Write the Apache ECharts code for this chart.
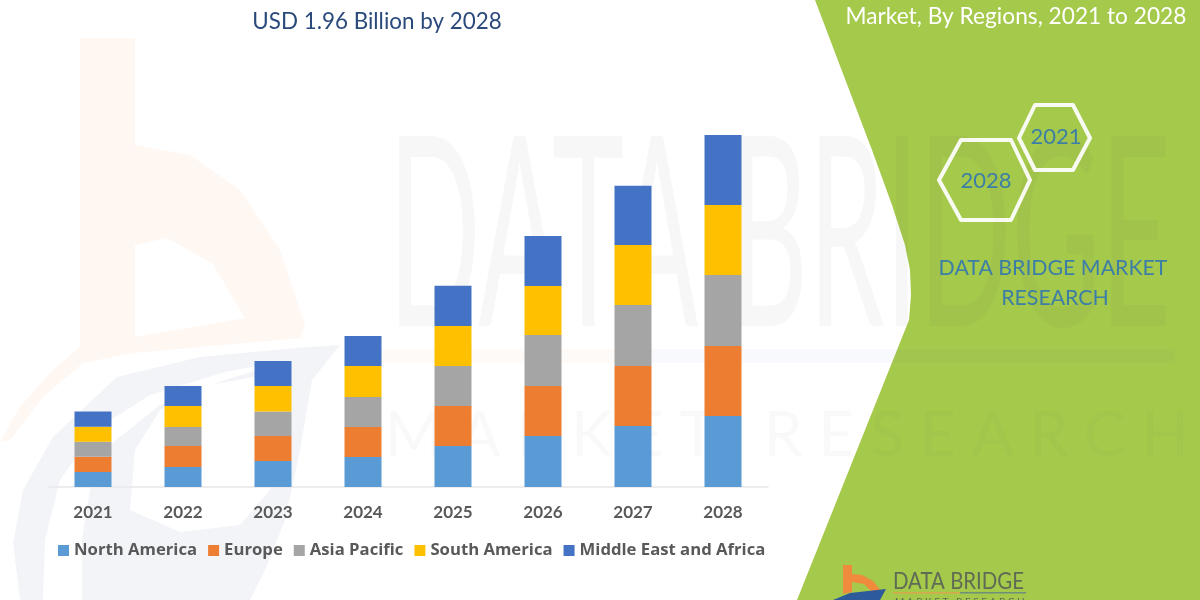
<!DOCTYPE html>
<html>
<head>
<meta charset="utf-8">
<style>
html, body { margin: 0; padding: 0; background: #fff; }
#chart { width: 1200px; height: 600px; }
</style>
<script src="https://cdn.jsdelivr.net/npm/echarts@6/dist/echarts.min.js"></script>
</head>
<body>
<div id="chart"></div>
<script>
// USD billion (2028 adds up to the 1.96 in the title)
const years = ['2021', '2022', '2023', '2024', '2025', '2026', '2027', '2028'];
const northAmerica = [0.084, 0.111, 0.145, 0.167, 0.228, 0.284, 0.340, 0.395];
const europe = [0.084, 0.117, 0.139, 0.167, 0.223, 0.278, 0.334, 0.390];
const asiaPacific = [0.084, 0.106, 0.136, 0.167, 0.223, 0.284, 0.340, 0.395];
const southAmerica = [0.084, 0.117, 0.142, 0.173, 0.223, 0.273, 0.334, 0.390];
const middleEast = [0.084, 0.111, 0.139, 0.167, 0.223, 0.278, 0.329, 0.390];

const font = 'Lato';
const myChart = echarts.init(document.getElementById('chart'), null, { renderer: 'canvas' });

const barSeries = (name, data, color) => ({
    name, data, type: 'bar', stack: 'total', barWidth: 37,
    itemStyle: { color }
});

const centered = (x, y, text, fill, size) => ({
    type: 'text', x, y,
    style: { text, fill, font: size + 'px ' + font, textAlign: 'center', textVerticalAlign: 'middle' }
});

const option = {
    animation: false,
    backgroundColor: '#fff',
    grid: { left: 48, right: 432, top: 135, bottom: 113 },
    xAxis: {
        type: 'category',
        data: years,
        axisTick: { show: false },
        axisLine: { lineStyle: { color: '#e7e7e9', width: 1.5 } },
        axisLabel: { color: '#595959', fontFamily: font, fontWeight: 'bold', fontSize: 17, margin: 17 }
    },
    yAxis: { type: 'value', min: 0, max: 1.96, show: false },
    legend: {
        left: 58, top: 542, padding: 0,
        itemWidth: 11, itemHeight: 11, itemGap: 11,
        icon: 'rect',
        textStyle: { color: '#595959', fontFamily: 'Open Sans', fontWeight: 'bold', fontSize: 16.7 },
        data: ['North America', 'Europe', 'Asia Pacific', 'South America', 'Middle East and Africa']
    },
    series: [
        barSeries('North America', northAmerica, '#5b9bd5'),
        barSeries('Europe', europe, '#ed7d31'),
        barSeries('Asia Pacific', asiaPacific, '#a5a5a5'),
        barSeries('South America', southAmerica, '#ffc000'),
        barSeries('Middle East and Africa', middleEast, '#4472c4')
    ],
    graphic: [
        // green panel on the right
        { type: 'polygon', z: -20, silent: true, shape: { points: [[815, 0], [872, 150], [892, 205], [905, 245], [910, 270], [911, 295], [909, 320], [797, 600], [1200, 600], [1200, 0]] }, style: { fill: '#a5c94a' } },
        // pale logo watermark
        { type: 'polygon', z: -19, silent: true, shape: { points: [[80, 38], [135, 38], [135, 145], [190, 155], [240, 190], [280, 250], [305, 325], [300, 338], [133, 353], [83, 363], [43, 397], [10, 440], [0, 442], [20, 407], [50, 373], [80, 347]] }, style: { fill: '#fff7f2' } },
        { type: 'polygon', z: -18, silent: true, shape: { points: [[135, 245], [167, 238], [213, 264], [245, 318], [135, 337]] }, style: { fill: '#fff' } },
        { type: 'polygon', z: -19, silent: true, shape: { points: [[340, 345], [307, 347], [200, 357], [117, 377], [53, 437], [23, 490], [13, 543], [20, 600], [250, 600], [265, 570], [285, 520], [300, 450], [312, 380]] }, style: { fill: '#f2f4f8' } },
        { type: 'polygon', z: -18, silent: true, shape: { points: [[43, 600], [45, 540], [60, 480], [95, 430], [150, 395], [225, 372], [290, 360], [225, 380], [160, 405], [110, 445], [90, 490], [82, 540], [82, 600]] }, style: { fill: '#fff' } },
        { type: 'polygon', z: -18, silent: true, shape: { points: [[280, 372], [210, 385], [160, 410], [135, 450], [130, 510], [180, 532], [240, 525], [270, 490], [285, 430]] }, style: { fill: '#fff' } },
        // faded company name behind the bars
        { type: 'text', z: -17, silent: true, x: 388, y: 108, scaleX: 0.46, style: { text: 'DATA BRIDGE', fill: 'rgba(90,90,90,0.05)', font: '265px ' + font } },
        { type: 'text', z: -17, silent: true, x: 385, y: 405, style: { text: 'M A R K E T   R E S E A R C H', fill: 'rgba(90,90,90,0.04)', font: '62px ' + font } },
        { type: 'rect', z: -17, silent: true, shape: { x: 380, y: 349, width: 250, height: 14 }, style: { fill: 'rgba(237,125,49,0.04)' } },
        { type: 'rect', z: -17, silent: true, shape: { x: 630, y: 349, width: 545, height: 14 }, style: { fill: 'rgba(68,114,196,0.04)' } },
        // titles
        centered(377, 22, 'USD 1.96 Billion by 2028', '#2b4a7c', 22.4),
        centered(1016, 17, 'Market, By Regions, 2021 to 2028', '#fff', 22.7),
        // hexagons
        { type: 'polygon', shape: { points: [[1035, 105], [1073, 105], [1090, 138], [1073, 170], [1035, 170], [1019, 138]] }, style: { fill: 'none', stroke: '#fff', lineWidth: 4, lineJoin: 'round', opacity: 0.92 } },
        { type: 'polygon', shape: { points: [[961, 140], [1011, 140], [1030, 180], [1011, 220], [961, 220], [939, 180]] }, style: { fill: 'none', stroke: '#fff', lineWidth: 4, lineJoin: 'round', opacity: 0.92 } },
        centered(1056, 137, '2021', '#3d7ea6', 22),
        centered(986, 181, '2028', '#3d7ea6', 22),
        centered(1053, 268, 'DATA BRIDGE MARKET', '#3d7ea6', 21.3),
        centered(1055, 298, 'RESEARCH', '#3d7ea6', 21.3),
        // small logo at the bottom
        { type: 'polygon', shape: { points: [[843, 565], [852, 565], [852, 574], [862, 575], [873, 581], [882, 592], [872, 592], [864, 584], [852, 582], [852, 592], [843, 594]] }, style: { fill: '#f08a3c' } },
        { type: 'polygon', shape: { points: [[833, 600], [850, 593], [886, 589], [880, 600]] }, style: { fill: '#2d5a9a' } },
        { type: 'text', x: 893, y: 581, scaleX: 0.85, style: { text: 'DATA BRIDGE', fill: '#5f6b55', font: '24px ' + font, textVerticalAlign: 'middle' } },
        { type: 'rect', shape: { x: 893, y: 592, width: 67, height: 1.5 }, style: { fill: '#d9a84e' } },
        { type: 'rect', shape: { x: 960, y: 592, width: 66, height: 1.5 }, style: { fill: '#6f8f7a' } },
        { type: 'text', x: 895, y: 597, style: { text: 'M A R K E T   R E S E A R C H', fill: '#5f6b55', font: '10px ' + font } }
    ]
};

option && myChart.setOption(option);
</script>
</body>
</html>
